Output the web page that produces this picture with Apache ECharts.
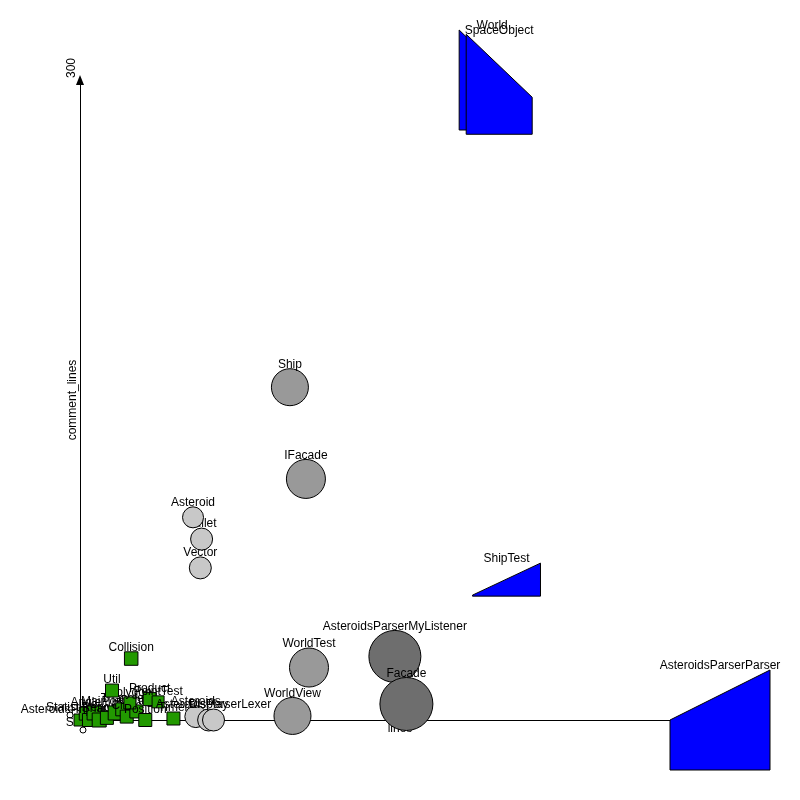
<!DOCTYPE html>
<html>
<head>
<meta charset="utf-8">
<script src="https://cdn.jsdelivr.net/npm/echarts@6/dist/echarts.min.js"></script>
<style>html,body{margin:0;padding:0;background:#fff;}#c{width:800px;height:800px;}</style>
</head>
<body>
<div id="c"></div>
<script>
// ---- data ----
const classNames = [
  'Statistics','Sound',
  'AsteroidsParserVisitor','Angle','Input','Main','Shape','Renderer','Point','Triangle','Circle','Config','Polygon','Position','Product','PointTest','Timer','Util','Collision',
  'Asteroids','Display','AsteroidsParserLexer','Vector','Bullet','Asteroid',
  'WorldView','WorldTest','IFacade','Ship',
  'AsteroidsParserMyListener','Facade',
  'ShipTest','AsteroidsParserParser','World','SpaceObject'
];
const lines = [
  -15.6, 4.7,
  0, 9, 14, 22, 30, 42, 55, 66, 73, 88, 78, 102, 109, 122, 146, 50, 80,
  181, 201, 208.6, 188, 190, 176.6,
  332, 357.8, 353, 328,
  492, 510,
  666.4, 1000, 644, 655
];
const commentLines = [
  2.3, -4.7,
  0, 3, 0, 3.3, 0, 1, 3.3, 5, 1.6, 4, 8, 0, 9.8, 8.5, 0.7, 13.8, 28.8,
  1.6, 0, 0, 71.3, 84.8, 95,
  1.9, 24.6, 113, 156,
  29.8, 7.5,
  65.8, 0, 300, 298
];
// class category: tiny, util, small, medium, large, test
const category = [
  'tiny','tiny',
  'util','util','util','util','util','util','util','util','util','util','util','util','util','util','util','util','util',
  'small','small','small','small','small','small',
  'medium','medium','medium','medium',
  'large','large',
  'test','test','test','test'
];
const methodCount = [
  3, 3,
  6, 6.5, 6.5, 7, 7, 6.5, 7, 6.5, 6.5, 6.5, 6, 6.5, 6.5, 6, 6.5, 6.5, 6.75,
  11, 11, 11, 11, 11, 10.5,
  18.5, 19.5, 19.5, 18.5,
  26, 26.5,
  34, 50, 33, 33
];
const fieldCount = [
  0,0, 0,0,0,0,0,0,0,0,0,0,0,0,0,0,0,0,0, 0,0,0,0,0,0, 0,0,0,0, 0,0,
  0.5, 25, 50, 50
];
const testCount = [
  0,0, 0,0,0,0,0,0,0,0,0,0,0,0,0,0,0,0,0, 0,0,0,0,0,0, 0,0,0,0, 0,0,
  16.5, 50, 18, 18.5
];
const xMax = 1000;
const yMax = 300;
const yTickLabels = ['300'];

// ---- chart ----
const PX = 2;
const FONT = '12px "Liberation Sans", Arial, sans-serif';
const fills = {tiny:'#ffffff', util:'#229900', small:'#c8c8c8', medium:'#999999', large:'#6e6e6e', test:'#0000ff'};

const seriesData = classNames.map((n, i) => [lines[i], commentLines[i], i]);

function renderItem(params, api) {
  const i = api.value(2);
  const p = api.coord([api.value(0), api.value(1)]);
  const cat = category[i];
  const s = methodCount[i] * PX;
  const style = {fill: fills[cat], stroke: '#000', lineWidth: 1};
  const children = [];
  let top;
  if (cat === 'util') {
    children.push({type: 'rect', shape: {x: p[0] - s / 2, y: p[1] - s / 2, width: s, height: s}, style});
    top = p[1] - s / 2;
  } else if (cat === 'test') {
    const hl = fieldCount[i] * PX, hr = testCount[i] * PX, h = Math.max(hl, hr);
    const x0 = p[0] - s / 2, x1 = p[0] + s / 2, yb = p[1] + h / 2;
    children.push({type: 'polygon', shape: {points: [[x0, yb], [x0, yb - hl], [x1, yb - hr], [x1, yb]]}, style});
    top = yb - h;
  } else {
    children.push({type: 'circle', shape: {cx: p[0], cy: p[1], r: s / 2}, style});
    top = p[1] - s / 2;
  }
  children.push({
    type: 'text', x: p[0], y: top + 2,
    style: {text: classNames[i], font: FONT, fill: '#000', align: 'center', verticalAlign: 'bottom'}
  });
  return {type: 'group', children};
}

const chart = echarts.init(document.getElementById('c'), null, {renderer: 'canvas'});
const axisCommon = {
  type: 'value', min: 0,
  splitLine: {show: false}, axisTick: {show: false}, axisLabel: {show: false},
  axisLine: {show: true, onZero: false, symbol: ['none', 'triangle'], symbolSize: [8, 10], lineStyle: {color: '#000', width: 1}},
  nameLocation: 'middle',
  nameTextStyle: {color: '#000', fontSize: 12, fontFamily: '"Liberation Sans", Arial, sans-serif'}
};
chart.setOption({
  animation: false,
  backgroundColor: '#fff',
  grid: {left: 80, right: 80, top: 80, bottom: 80, containLabel: false},
  xAxis: Object.assign({}, axisCommon, {max: xMax, interval: xMax, name: 'lines', nameGap: 3}),
  yAxis: Object.assign({}, axisCommon, {max: yMax, interval: yMax, name: 'comment_lines', nameGap: 1}),
  series: [{
    type: 'custom', renderItem, data: seriesData, clip: false,
    encode: {x: 0, y: 1}
  }]
});
const topPt = chart.convertToPixel({gridIndex: 0}, [0, yMax]);
chart.setOption({
  graphic: [{
    type: 'text', x: topPt[0] - 8.5, y: topPt[1] - 12, rotation: Math.PI / 2,
    style: {text: yTickLabels[0], font: FONT, fill: '#000', align: 'center', verticalAlign: 'middle'}
  }]
});
</script>
</body>
</html>
